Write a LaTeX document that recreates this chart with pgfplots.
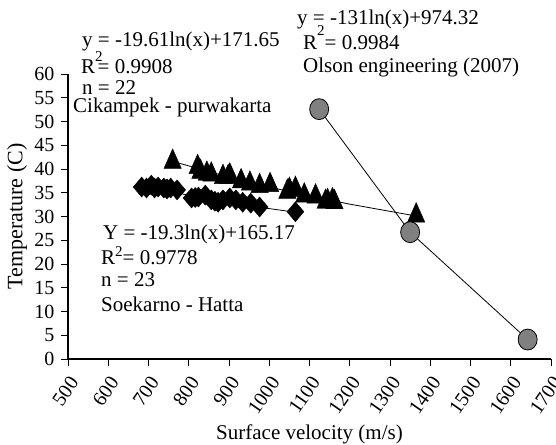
\documentclass[border=0pt]{standalone}
\usepackage{fontspec}
\setmainfont{Liberation Serif}
\usepackage{pgfplots}
\pgfplotsset{compat=1.18}
\definecolor{cgray}{RGB}{128,128,128}
\newcommand\Rsq[2]{R\raisebox{#1}{\fontsize{15}{15}\selectfont 2}\kern#2}
\begin{document}
\begin{tikzpicture}
\begin{axis}[
  at={(68pt,85pt)}, anchor=south west,
  scale only axis, width=483pt, height=285pt,
  xmin=500, xmax=1700, ymin=0, ymax=60,
  axis lines=left, axis line style={-, line width=1.1pt},
  xtick={500,600,...,1700}, ytick={0,5,...,60},
  tick align=outside, major tick length=7pt,
  tick style={line width=1pt, black},
  /pgf/number format/assume math mode=true,
  /pgf/number format/set thousands separator={},
  ticklabel style={font=\fontsize{20}{20}\selectfont},
  xticklabel style={rotate=55, anchor=north east, inner sep=2pt},
  xticklabel shift=6pt,
  yticklabel shift=3pt,
  xlabel={Surface velocity (m/s)}, ylabel={Temperature (C)},
  xlabel style={at={(axis description cs:0.5,-0.2807)}, anchor=base, font=\fontsize{21}{21}\selectfont},
  ylabel style={at={(axis description cs:-0.1056,0.5)}, anchor=center, font=\fontsize{22}{22}\selectfont},
  clip=false,
]
% trend line, Cikampek - purwakarta
\addplot[black, line width=0.8pt] coordinates {
  (760,41.6) (900,38.3) (1000,36.2) (1100,34.3) (1200,32.6) (1365,30.1)};
% trend line, Soekarno - Hatta
\addplot[black, line width=0.8pt] coordinates {
  (683,36.3) (780,34.8) (880,33.3) (980,31.9) (1065,30.9)};
% Soekarno - Hatta (n = 23)
\addplot[only marks, mark=diamond*, mark size=10pt,
  mark options={xscale=1.13, fill=black, draw=black}] coordinates {
  (683,36.2) (695,36.0) (707,36.6) (715,36.0) (724,36.2) (738,36.0)
  (746,35.8) (755,36.0) (771,35.6) (807,33.9) (816,34.0) (824,34.1)
  (841,34.5) (856,33.5) (865,33.2) (873,33.0) (885,33.5) (902,33.9)
  (917,33.5) (934,33.0) (954,32.8) (976,32.0) (1065,31.0)};
% Cikampek - purwakarta (n = 22)
\addplot[only marks, mark=triangle*, mark size=10pt,
  mark options={yscale=1.3, fill=black, draw=black}] coordinates {
  (760,41.5) (822,40.4) (829,39.4) (845,39.0) (856,38.8) (885,38.3)
  (898,38.3) (902,38.6) (930,37.4) (952,36.9) (976,36.4) (1002,36.6)
  (1045,35.2) (1050,35.6) (1065,35.8) (1087,34.4) (1115,34.2) (1140,33.1)
  (1145,33.2) (1157,33.4) (1162,33.0) (1365,30.2)};
% Olson engineering (2007)
\addplot[black, line width=0.8pt, mark=*, mark size=9.5pt,
  mark options={yscale=1.1, fill=cgray, draw=black, line width=0.8pt}] coordinates {
  (1124,52.6) (1350,26.7) (1642,4.1)};
\end{axis}
\begin{scope}[every node/.style={anchor=base west, inner sep=0pt, font=\fontsize{21}{21}\selectfont}]
\node at (82pt,397pt) {y = -19.61ln(x)+171.65};
\node at (81pt,370pt) {\Rsq{12pt}{-5pt}= 0.9908};
\node at (82pt,349pt) {n = 22};
\node at (73pt,331pt) {Cikampek - purwakarta};
\node at (297pt,419pt) {y = -131ln(x)+974.32};
\node at (303pt,394pt) {\Rsq{14pt}{0pt}= 0.9984};
\node at (303pt,371pt) {Olson engineering (2007)};
\node at (103pt,204pt) {Y = -19.3ln(x)+165.17};
\node at (101pt,179pt) {\Rsq{8pt}{0pt}= 0.9778};
\node at (101pt,157pt) {n = 23};
\node at (101pt,132pt) {Soekarno - Hatta};
\end{scope}
\pgfresetboundingbox
\path (0pt,0pt) rectangle (556pt,444pt);
\end{tikzpicture}
\end{document}
